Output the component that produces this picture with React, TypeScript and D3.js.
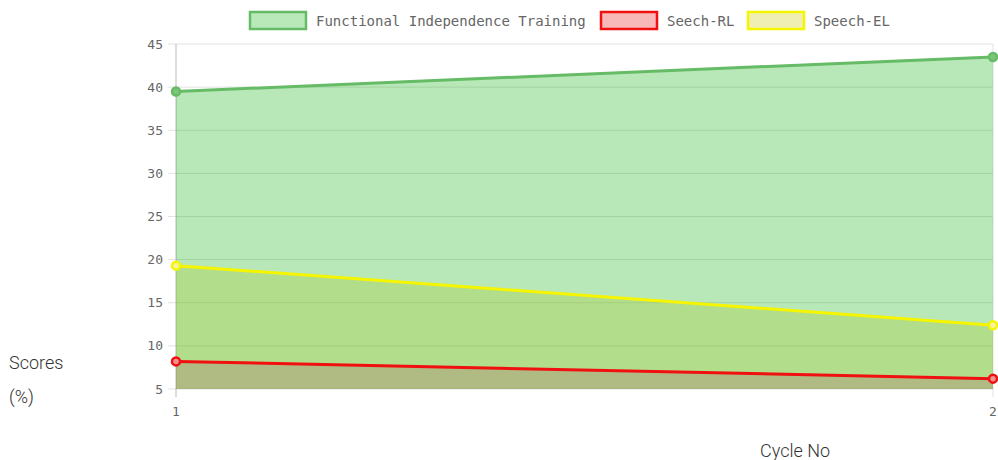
import React from "react";
import * as d3 from "d3";

const cycles = [1, 2];
const fitValues = [39.5, 43.5];
const rlValues = [8.2, 6.2];
const elValues = [19.3, 12.4];
const yTicks = [5, 10, 15, 20, 25, 30, 35, 40, 45];
const seriesNames = ["Functional Independence Training", "Seech-RL", "Speech-EL"];

const W = 998;
const H = 460;
const left = 176;
const right = 993;
const top = 44;
const bottom = 389;

const series = [
  { name: seriesNames[0], values: fitValues, stroke: "#66bb66", fill: "rgba(0,170,0,0.28)", legendFill: "#b9e9b9", pointFill: "#7cc67c" },
  { name: seriesNames[2], values: elValues, stroke: "#f5f500", fill: "rgba(164,199,37,0.3)", legendFill: "#efefb4", pointFill: "#f4f4a0" },
  { name: seriesNames[1], values: rlValues, stroke: "#f01010", fill: "rgba(171,109,113,0.3)", legendFill: "#f8b8b8", pointFill: "#f49090" },
];

const legendOrder = [series[0], series[2], series[1]];

export default function App() {
  const x = d3.scaleLinear().domain([1, 2]).range([left, right]);
  const y = d3.scaleLinear().domain([5, 45]).range([bottom, top]);
  const mono = "'DejaVu Sans Mono', monospace";

  const area = d3
    .area<[number, number]>()
    .x((d) => x(d[0]))
    .y0(() => y(5))
    .y1((d) => y(d[1]));
  const line = d3
    .line<[number, number]>()
    .x((d) => x(d[0]))
    .y((d) => y(d[1]));

  const legendX = [249, 600, 747];

  return (
    <svg width={W} height={H} style={{ position: "absolute", left: 0, top: 0, background: "#fff" }}>
      {yTicks.map((t) => (
        <g key={t}>
          <line x1={left - 8} x2={right} y1={y(t)} y2={y(t)} stroke="#e2e2e2" strokeWidth={1} />
          <text x={left - 13} y={y(t)} dy="0.35em" textAnchor="end" fontFamily={mono} fontSize={13} fill="#666">
            {t}
          </text>
        </g>
      ))}
      {cycles.map((c) => (
        <g key={c}>
          <line x1={x(c)} x2={x(c)} y1={top} y2={bottom + 8} stroke={c === 1 ? "#bbb" : "#e2e2e2"} strokeWidth={1} />
          <text x={x(c)} y={bottom + 27} textAnchor="middle" fontFamily={mono} fontSize={13} fill="#666">
            {c}
          </text>
        </g>
      ))}
      {series.map((s) => {
        const pts = cycles.map((c, i) => [c, s.values[i]] as [number, number]);
        return <path key={s.name + "a"} d={area(pts) || ""} fill={s.fill} />;
      })}
      {series.map((s) => {
        const pts = cycles.map((c, i) => [c, s.values[i]] as [number, number]);
        return (
          <g key={s.name + "l"}>
            <path d={line(pts) || ""} fill="none" stroke={s.stroke} strokeWidth={3} />
            {pts.map((p, i) => (
              <circle key={i} cx={x(p[0])} cy={y(p[1])} r={4} fill={s.pointFill} stroke={s.stroke} strokeWidth={2.5} />
            ))}
          </g>
        );
      })}
      {legendOrder.map((s, i) => (
        <g key={s.name + "lg"}>
          <rect x={legendX[i] + 1} y={12} width={56} height={17} fill={s.legendFill} stroke={s.stroke} strokeWidth={2.5} />
          <text x={legendX[i] + 67} y={21} dy="0.35em" fontFamily={mono} fontSize={14} fill="#666">
            {s.name}
          </text>
        </g>
      ))}
      <text x={9} y={369} fontFamily="Roboto, sans-serif" fontWeight={300} fontSize={18} fill="#333">
        Scores
      </text>
      <text x={9} y={403} fontFamily="Roboto, sans-serif" fontWeight={300} fontSize={18} fill="#333">
        (%)
      </text>
      <text x={760} y={457} fontFamily="Roboto, sans-serif" fontWeight={300} fontSize={18} fill="#333">
        Cycle No
      </text>
    </svg>
  );
}
